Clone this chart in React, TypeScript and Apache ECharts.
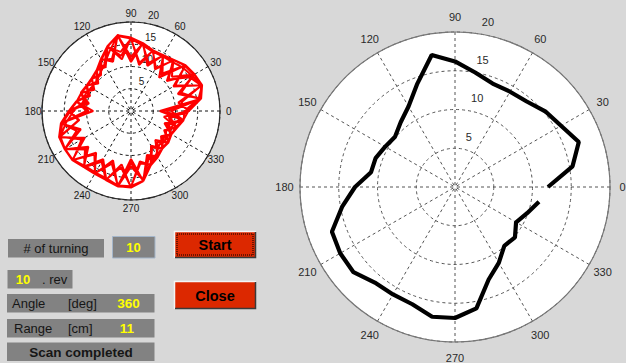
import React, { useEffect, useRef } from "react";
import * as echarts from "echarts";

// Scan angles in degrees (one reading every 10 degrees per revolution)
const ANGLES = [
  0, 10, 20, 30, 40, 50, 60, 70, 80, 90, 100, 110, 120, 130, 140, 150, 160, 170,
  180, 190, 200, 210, 220, 230, 240, 250, 260, 270, 280, 290, 300, 310, 320, 330, 340, 350,
];

// Range readings [cm] for each revolution of the sensor
const SCAN_1 = [12.5, 15.8, 16.8, 15.2, 11.0, 14.6, 14.3, 11.5, 15.2, 16.3, 17.1, 12.5, 13.2, 11.8, 10.2, 11.3, 11.9, 10.0, 13.6, 15.7, 16.9, 12.8, 17.0, 16.2, 12.5, 16.3, 16.9, 11.8, 15.7, 12.6, 11.8, 9.2, 10.8, 10.3, 8.5, 11.6];
const SCAN_2 = [8.0, 15.6, 12.0, 16.3, 15.8, 10.5, 14.2, 14.4, 11.0, 16.2, 13.5, 15.3, 13.3, 10.5, 11.3, 11.4, 10.2, 12.3, 13.8, 11.8, 17.0, 17.1, 13.5, 16.4, 16.1, 12.6, 17.1, 17.0, 12.0, 12.8, 11.9, 10.9, 9.5, 10.4, 10.8, 8.6];
const SCAN_3 = [12.8, 11.5, 16.9, 16.4, 12.0, 14.8, 11.2, 14.3, 15.4, 12.2, 17.2, 15.4, 11.4, 11.9, 11.4, 9.8, 11.8, 12.4, 9.5, 15.9, 13.0, 17.2, 17.1, 12.8, 16.2, 16.4, 12.9, 17.1, 15.9, 10.5, 11.7, 10.8, 10.9, 8.9, 10.7, 11.8];
const SCAN_4 = [7.0, 15.9, 17.0, 11.5, 15.9, 14.9, 14.4, 11.2, 15.3, 16.4, 12.6, 15.2, 13.4, 10.8, 11.4, 11.5, 9.9, 12.4, 13.9, 15.8, 12.4, 17.1, 17.2, 16.4, 12.9, 16.4, 17.2, 12.5, 15.8, 12.9, 9.0, 10.9, 11.0, 10.4, 8.0, 11.9];
const SCAN_5 = [12.9, 15.9, 11.2, 16.4, 15.9, 11.0, 14.4, 14.4, 15.4, 11.5, 17.2, 15.4, 13.4, 11.9, 9.6, 11.5, 11.9, 12.4, 10.0, 16.0, 17.1, 12.2, 17.2, 16.4, 16.2, 12.0, 17.2, 17.1, 11.5, 12.9, 11.9, 10.9, 8.8, 10.4, 10.9, 11.9];
const SCAN_6 = [6.5, 16.0, 17.0, 16.5, 10.5, 14.9, 14.5, 14.5, 10.5, 16.4, 17.3, 12.0, 13.5, 12.0, 11.5, 9.5, 12.0, 10.5, 13.9, 12.0, 17.2, 17.2, 13.0, 16.5, 16.3, 16.5, 12.2, 17.2, 16.0, 11.0, 12.0, 8.5, 11.0, 10.5, 10.9, 7.5];
const SCAN_7 = [13.0, 10.8, 17.0, 16.5, 16.0, 9.8, 14.5, 14.5, 15.5, 16.5, 11.8, 15.5, 13.5, 12.0, 11.5, 11.5, 10.3, 12.5, 14.0, 16.0, 12.0, 17.2, 17.2, 12.2, 16.3, 16.5, 17.2, 11.2, 16.0, 13.0, 12.0, 11.0, 11.0, 8.6, 11.0, 12.0];
const SCAN_8 = [9.0, 16.0, 17.0, 11.0, 16.0, 15.0, 10.8, 14.5, 15.5, 16.5, 17.3, 11.8, 13.5, 12.0, 11.5, 11.5, 12.0, 9.6, 14.0, 16.0, 17.2, 12.0, 17.2, 16.5, 13.2, 16.5, 17.2, 17.2, 16.0, 11.5, 12.0, 11.0, 9.3, 10.5, 11.0, 9.0];
const SCAN_9 = [13.0, 16.0, 11.5, 16.5, 16.0, 15.0, 14.5, 10.8, 15.5, 11.0, 17.3, 15.5, 12.0, 12.0, 11.5, 11.5, 9.8, 12.5, 8.5, 16.0, 17.2, 17.2, 12.5, 16.5, 16.3, 11.8, 17.2, 10.8, 16.0, 13.0, 9.5, 11.0, 11.0, 10.5, 9.0, 12.0];
// Final revolution, shown on its own in the large plot
const LAST_SCAN = [12.0, 15.4, 17.0, 15.8, 15.2, 14.4, 14.2, 14.2, 15.0, 16.2, 17.3, 14.2, 12.0, 10.9, 10.1, 10.4, 10.9, 11.0, 12.9, 14.8, 16.9, 17.1, 17.1, 16.1, 16.0, 16.1, 17.0, 16.9, 15.9, 12.7, 11.3, 9.9, 10.1, 9.1, 9.9, 11.0];

const ALL_SCANS = [SCAN_1, SCAN_2, SCAN_3, SCAN_4, SCAN_5, SCAN_6, SCAN_7, SCAN_8, SCAN_9, LAST_SCAN];

// Axis ticks
const ANGLE_TICKS = [0, 30, 60, 90, 120, 150, 180, 210, 240, 270, 300, 330];
const RANGE_TICKS = [5, 10, 15, 20];
const R_MAX = 20;

// Status panel values
const TURNS = ALL_SCANS.length;
const SCAN_SPAN_DEG = 360;

const SMALL = { cx: 131, cy: 111, r: 89 };
const BIG = { cx: 455, cy: 187, r: 155 };
const VIEW_W = 626;

const FONT = '"Liberation Sans", Arial, Helvetica, sans-serif';
const PANEL_GRAY = "#828282";
const INK = "#161616";
const VALUE_YELLOW = "#ffff00";

const toPairs = (scan: number[]) => scan.map((r, i) => [r, ANGLES[i]]);

function txt(
  x: number,
  y: number,
  text: string,
  size: number,
  color: string,
  align: string = "center",
  weight: string = "normal",
  vAlign: string = "middle"
) {
  return {
    type: "text",
    x,
    y,
    style: {
      text,
      fill: color,
      fontSize: size,
      fontFamily: FONT,
      fontWeight: weight,
      align,
      verticalAlign: vAlign,
      textAlign: align,
      textVerticalAlign: vAlign,
    },
  };
}

// Tick labels placed MATLAB-style: angles centred on a ring at 1.1 R,
// ranges along the 82 degree ray just outside each circle.
function polarLabels(
  p: { cx: number; cy: number; r: number },
  size: number,
  color: string,
  dx: number,
  dy: number
) {
  const out: any[] = [];
  ANGLE_TICKS.forEach((a) => {
    const rad = (a * Math.PI) / 180;
    const label = String(a);
    const halfW = (label.length * size * 0.556) / 2;
    // keep the label inside the canvas
    const x = Math.min(p.cx + 1.1 * p.r * Math.cos(rad), VIEW_W - halfW - 0.5);
    out.push(txt(x, p.cy - 1.1 * p.r * Math.sin(rad), label, size, color));
  });
  const a82 = (82 * Math.PI) / 180;
  RANGE_TICKS.forEach((v) => {
    const rr = ((v + R_MAX / 80) / R_MAX) * p.r;
    out.push(txt(p.cx + rr * Math.cos(a82) + dx, p.cy - rr * Math.sin(a82) + dy, String(v), size, color, "left"));
  });
  return out;
}

function panelBox(x: number, y: number, w: number, h: number) {
  return { type: "rect", shape: { x, y, width: w, height: h }, style: { fill: PANEL_GRAY } };
}

function button(x: number, y: number, w: number, h: number, label: string, focused: boolean) {
  const els: any[] = [
    { type: "rect", shape: { x, y, width: w, height: h }, style: { fill: "#dc2800" } },
    {
      type: "polyline",
      shape: { points: [[x + 0.5, y + h], [x + 0.5, y + 0.5], [x + w, y + 0.5]] },
      style: { stroke: "#f4f4f4", lineWidth: 1.5, fill: null },
    },
    {
      type: "polyline",
      shape: { points: [[x + 1, y + h - 0.5], [x + w - 0.5, y + h - 0.5], [x + w - 0.5, y + 1]] },
      style: { stroke: "#3a3a3a", lineWidth: 1.5, fill: null },
    },
  ];
  if (focused) {
    els.push({
      type: "rect",
      shape: { x: x + 3, y: y + 3, width: w - 6, height: h - 6 },
      style: { fill: null, stroke: "#000", lineWidth: 1, lineDash: [1, 1] },
    });
  }
  els.push(txt(x + w / 2, y + h / 2 + 0.5, label, 14.5, "#000", "center", "bold"));
  return els;
}

function axesFor(polarIndex: number, grid: string, rim: string) {
  return {
    angle: {
      polarIndex,
      type: "value",
      min: 0,
      max: 360,
      interval: 30,
      startAngle: 0,
      clockwise: false,
      z: 3,
      axisLine: { show: true, lineStyle: { color: rim, width: 1.2 } },
      axisTick: { show: false },
      axisLabel: { show: false },
      splitLine: { show: true, lineStyle: { color: grid, width: 1, type: [3, 3] } },
    },
    radius: {
      polarIndex,
      type: "value",
      min: 0,
      max: R_MAX,
      interval: 5,
      z: 2,
      axisLine: { show: false },
      axisTick: { show: false },
      axisLabel: { show: false },
      splitLine: { show: true, lineStyle: { color: grid, width: 1, type: [3, 3] } },
    },
  };
}

export default function App() {
  const ref = useRef<HTMLDivElement>(null);

  useEffect(() => {
    document.body.style.margin = "0";
    if (!ref.current) return;
    const chart = echarts.init(ref.current, undefined, { renderer: "svg" });

    const small = axesFor(0, "#111", "#2a2a2a");
    const big = axesFor(1, "#555", "#777");

    const history: number[][] = [];
    ALL_SCANS.forEach((s) => history.push(...toPairs(s)));

    const lastRange = Math.round(LAST_SCAN[LAST_SCAN.length - 1]);

    const graphics: any[] = [
      { type: "circle", z: -1, shape: { cx: SMALL.cx, cy: SMALL.cy, r: SMALL.r }, style: { fill: "#fff" } },
      { type: "circle", z: -1, shape: { cx: BIG.cx, cy: BIG.cy, r: BIG.r }, style: { fill: "#fff" } },
      ...polarLabels(SMALL, 10, "#1a1a1a", 4.5, -6.5),
      ...polarLabels(BIG, 11, "#2a2a2a", 5, -10),

      // number of turns
      panelBox(8, 239, 96, 18.5),
      txt(56, 248.5, "# of turning", 13, INK),
      {
        type: "rect",
        shape: { x: 112.5, y: 236.5, width: 42.5, height: 21.5 },
        style: { fill: PANEL_GRAY, stroke: "#a4b6ca", lineWidth: 1 },
      },
      txt(133.5, 247.5, String(TURNS), 13, VALUE_YELLOW, "center", "bold"),

      // current revolution
      panelBox(7.5, 270, 65, 18.5),
      txt(23, 279.5, String(TURNS), 13, VALUE_YELLOW, "center", "bold"),
      txt(42, 279.5, ". rev", 13, INK, "left"),

      // current angle
      panelBox(7, 294, 147.5, 18.5),
      txt(12, 303.5, "Angle", 13, INK, "left"),
      txt(68, 303.5, "[deg]", 13, INK, "left"),
      txt(128.5, 303.5, String(SCAN_SPAN_DEG), 13.5, VALUE_YELLOW, "center", "bold"),

      // current range
      panelBox(7, 319, 147.5, 18.5),
      txt(14, 328.5, "Range", 13, INK, "left"),
      txt(68, 328.5, "[cm]", 13, INK, "left"),
      txt(127, 328.5, String(lastRange), 13.5, VALUE_YELLOW, "center", "bold"),

      // status line
      panelBox(7, 342.5, 147.5, 18.5),
      txt(81, 352, "Scan completed", 13.5, INK, "center", "bold"),

      ...button(174, 231, 82, 27, "Start", true),
      ...button(174, 281, 82, 28, "Close", false),
    ];

    chart.setOption({
      animation: false,
      backgroundColor: "#d8d8d8",
      polar: [
        { center: [SMALL.cx, SMALL.cy], radius: SMALL.r },
        { center: [BIG.cx, BIG.cy], radius: BIG.r },
      ],
      angleAxis: [small.angle, big.angle],
      radiusAxis: [small.radius, big.radius],
      series: [
        {
          type: "line",
          coordinateSystem: "polar",
          polarIndex: 0,
          data: history,
          showSymbol: false,
          symbol: "none",
          z: 4,
          lineStyle: { color: "#ff0000", width: 2 },
        },
        {
          type: "line",
          coordinateSystem: "polar",
          polarIndex: 1,
          data: toPairs(LAST_SCAN),
          showSymbol: false,
          symbol: "none",
          z: 4,
          lineStyle: { color: "#000000", width: 4.2 },
        },
      ],
      graphic: { elements: graphics },
    });

    return () => chart.dispose();
  }, []);

  return (
    <div
      ref={ref}
      style={{ position: "absolute", left: 0, top: 0, width: 626, height: 363 }}
    />
  );
}
